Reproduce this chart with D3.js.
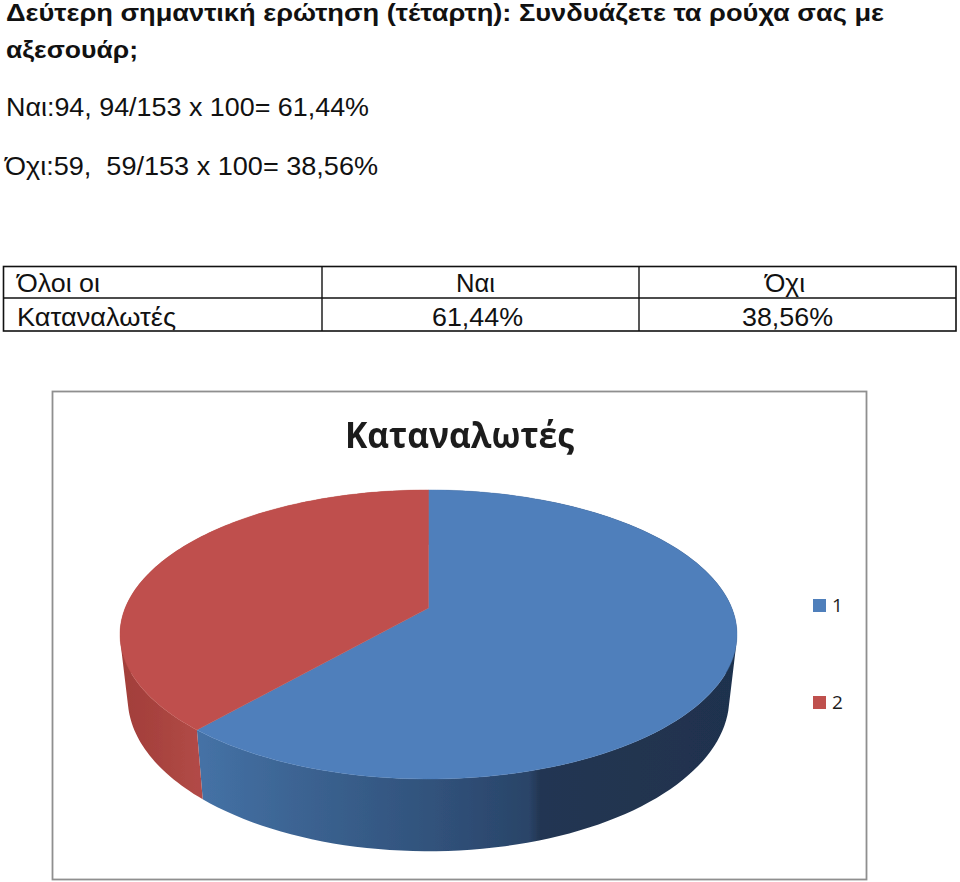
<!DOCTYPE html>
<html><head><meta charset="utf-8">
<style>html,body{margin:0;padding:0;background:#fff}svg{display:block}</style>
<script src="https://cdn.jsdelivr.net/npm/d3@7"></script></head><body>
<div id="chart"></div>
<script>
const categories = ["Ναι", "Όχι"];
const counts = [94, 59];
const legendLabels = ["1", "2"];
const topColors = ["#4f7fbb", "#bf504d"];
const title = ["Δεύτερη σημαντική ερώτηση (τέταρτη): Συνδυάζετε τα ρούχα σας με", "αξεσουάρ;"];
const calcLines = ["Ναι:94, 94/153 x 100= 61,44%", "Όχι:59,  59/153 x 100= 38,56%"];
const tableRows = [["Όλοι οι", "Ναι", "Όχι"], ["Καταναλωτές", "61,44%", "38,56%"]];
const chartTitle = "Καταναλωτές";

const W = 960, H = 882;
const svg = d3.select("#chart").append("svg").attr("width", W).attr("height", H);
const sans = "'Liberation Sans', Arial, sans-serif";

function put(sel, x, y, txt, size, len, opts = {}) {
  return sel.append("text").attr("x", x).attr("y", y).text(txt)
    .attr("xml:space", "preserve").style("white-space", "pre")
    .attr("font-family", opts.family || sans).attr("font-size", size)
    .attr("font-weight", opts.weight || 400).attr("fill", opts.fill || "#000")
    .attr("textLength", len).attr("lengthAdjust", "spacingAndGlyphs");
}

/* ---------- heading text ---------- */
put(svg, 6, 21, title[0], 23, 878, {weight: 700, fill: "#111"});
put(svg, 6, 58, title[1], 23, 132, {weight: 700, fill: "#111"});
put(svg, 6, 116, calcLines[0], 25, 363, {fill: "#111"});
put(svg, 5, 175, calcLines[1], 25, 373, {fill: "#111"});

/* ---------- table ---------- */
const colX = [3.5, 322, 639, 956];
const rowY = [266.5, 298, 331];
const tbl = svg.append("g");
tbl.append("rect").attr("x", colX[0]).attr("y", rowY[0])
  .attr("width", colX[3] - colX[0]).attr("height", rowY[2] - rowY[0])
  .attr("fill", "none").attr("stroke", "#111").attr("stroke-width", 1.6);
tbl.selectAll("line.v").data(colX.slice(1, 3)).join("line")
  .attr("x1", d => d).attr("x2", d => d).attr("y1", rowY[0]).attr("y2", rowY[2])
  .attr("stroke", "#111").attr("stroke-width", 1.4);
tbl.append("line").attr("x1", colX[0]).attr("x2", colX[3]).attr("y1", rowY[1]).attr("y2", rowY[1])
  .attr("stroke", "#111").attr("stroke-width", 1.4);
const cellPos = [[[17, 83], [456, 39], [765, 40]], [[17, 159], [432, 91], [742, 91]]];
const base = [292, 326];
tableRows.forEach((r, i) => r.forEach((t, j) =>
  put(tbl, cellPos[i][j][0], base[i], t, 26, cellPos[i][j][1], {fill: "#111"})));

/* ---------- chart frame ---------- */
const defs = svg.append("defs");
const soft = defs.append("filter").attr("id", "soft");
soft.append("feGaussianBlur").attr("stdDeviation", 0.5);

const frame = svg.append("g");
frame.append("rect").attr("x", 52.5).attr("y", 391.5).attr("width", 814).attr("height", 488)
  .attr("fill", "#fff").attr("stroke", "#8f8f8f").attr("stroke-width", 1.8);

put(frame, 345, 448, chartTitle, 35, 229, {weight: 700, family: "'Open Sans', sans-serif", fill: "#1c1c1c"})
  .attr("filter", "url(#soft)");

/* ---------- 3-D pie ---------- */
const pieAngles = d3.pie().sort(null).value(d => d)(counts);
const persp = 0.183;                                   // foreshortening of the tilted disc
const sx = d3.scaleLinear().domain([-1, 1]).range([428.5 - 303.3, 428.5 + 303.3]);
const sy = d3.scaleLinear().domain([-1, 1]).range([608 - 139.7, 608 + 139.7]);
const depth = {dy: 62, kx: 0.975, ky: 1.06};

function project(a, lower) {
  const u = Math.sin(a), v = -Math.cos(a), d = 1 - persp * v;
  const x = sx(u / d), y = sy(v / d);
  if (!lower) return [x, y];
  return [sx(0) + (x - sx(0)) * depth.kx, sy(0) + depth.dy + (y - sy(0)) * depth.ky];
}
const line = d3.line();
const arcPts = (a0, a1, lower) => d3.range(0, 121).map(i => project(a0 + (a1 - a0) * i / 120, lower));

const wallStops = [
  [[0, "#4572a6"], [0.18, "#3c6493"], [0.45, "#30517a"], [0.615, "#2a4468"], [0.635, "#233652"], [1, "#1f324e"]],
  [[0, "#a23e3a"], [0.5, "#a8433f"], [1, "#b14a46"]]
];
const wallDirs = [[197, 737], [120, 197]];
pieAngles.forEach((p, k) => {
  const g = defs.append("linearGradient").attr("id", "wall" + k).attr("gradientUnits", "userSpaceOnUse")
    .attr("x1", wallDirs[k][0]).attr("x2", wallDirs[k][1]).attr("y1", 0).attr("y2", 0);
  wallStops[k].forEach(s => g.append("stop").attr("offset", s[0]).attr("stop-color", s[1]));
});

const pie = svg.append("g").attr("filter", "url(#soft)");
/* side walls: a single path per slice, so no seams appear between its facets */
pieAngles.forEach((p, k) => {
  const top = arcPts(p.startAngle, p.endAngle, false);
  const low = arcPts(p.startAngle, p.endAngle, true);
  const d = d3.range(0, 120).map(i => {
    // keep every facet's winding the same
    const quad = [top[i], top[i + 1], low[i + 1], low[i]];
    return line(d3.polygonArea(quad) < 0 ? quad.reverse() : quad) + "Z";
  }).join("");
  pie.append("path").attr("d", d).attr("fill", `url(#wall${k})`);
});
/* top face */
pie.selectAll("path.face").data(pieAngles).join("path").attr("class", "face")
  .attr("d", p => line([[sx(0), sy(0)], ...arcPts(p.startAngle, p.endAngle, false)]) + "Z")
  .attr("fill", (p, i) => topColors[i])
  .attr("stroke", (p, i) => topColors[i]).attr("stroke-width", 0.4);

/* ---------- legend ---------- */
const lgY = d3.scalePoint().domain(legendLabels).range([599, 696]);
const lg = svg.append("g").selectAll("g").data(legendLabels).join("g");
lg.append("rect").attr("x", 813).attr("y", d => lgY(d)).attr("width", 13).attr("height", 13)
  .attr("fill", (d, i) => topColors[i]);
lg.append("text").attr("x", 832).attr("y", d => lgY(d) + 13).text(d => d)
  .attr("font-family", "'Open Sans', sans-serif").attr("font-size", 19).attr("fill", "#1c1c1c");
</script>
</body></html>
